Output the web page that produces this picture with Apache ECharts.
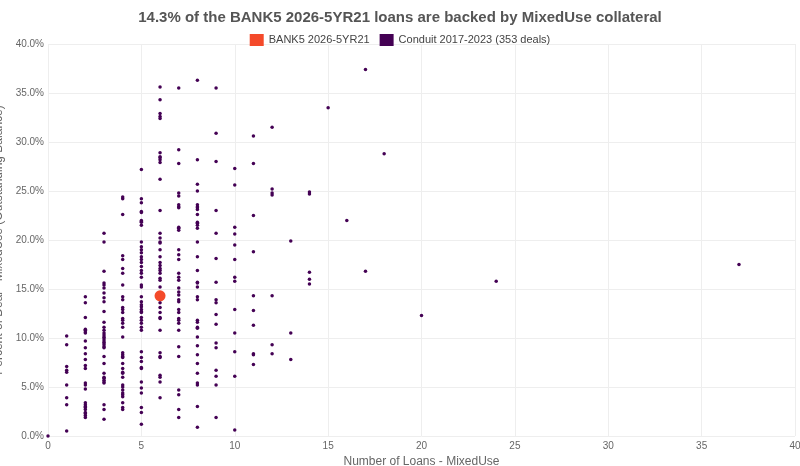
<!DOCTYPE html>
<html><head><meta charset="utf-8">
<script src="https://cdn.jsdelivr.net/npm/echarts@6/dist/echarts.min.js"></script>
<style>html,body{margin:0;padding:0;background:#fff}#c{width:800px;height:466px}</style>
</head><body><div id="c"></div>
<script>
const bankX = 6, bankY = 14.3;
const conduitCols = {
0:[0],
1:[10.2,9.3,7.1,6.7,6.5,5.2,3.9,3.2,0.5],
2:[14.2,13.6,12.1,10.9,10.8,10.6,10.5,9.7,9.0,8.4,7.8,7.2,6.9,5.4,5.2,4.8,3.4,3.2,3.0,2.9,2.7,2.4,2.3,2.1,1.9],
3:[20.7,19.8,16.8,15.6,15.4,15.1,14.6,14.1,13.7,12.7,11.6,11.1,10.8,10.5,10.3,10.1,10.0,9.8,9.6,9.5,9.3,9.1,9.0,8.1,7.4,6.4,6.0,5.9,5.7,5.5,5.4,3.2,2.7,1.7],
4:[24.4,24.2,22.6,18.4,18.0,17.1,16.6,15.4,14.2,13.9,13.1,12.9,12.6,12.0,11.8,11.5,11.1,10.1,8.5,8.3,8.1,8.0,7.4,6.9,6.5,6.4,6.0,5.2,5.0,4.7,4.4,4.2,4.0,3.4,2.9,2.7],
5:[27.2,24.2,23.8,22.9,22.8,21.9,21.5,22.0,21.8,19.8,19.3,19.0,18.7,18.3,18.0,17.7,17.3,16.9,16.6,16.2,15.4,15.2,14.2,13.7,13.4,13.2,12.9,12.7,12.6,12.1,11.8,11.5,11.1,10.8,8.6,8.0,7.6,7.0,6.9,5.5,4.9,4.4,2.9,2.4,1.2],
6:[35.6,34.3,32.9,32.6,32.4,28.9,28.5,28.4,28.2,27.9,26.2,23.0,20.7,20.2,19.8,19.7,19.0,18.3,17.7,17.4,17.1,16.9,16.6,16.1,15.9,15.2,13.6,13.1,12.6,12.1,12.0,10.8,8.5,8.1,8.0,6.2,6.0,5.5,3.9],
7:[35.5,29.2,27.8,24.8,24.5,23.6,23.4,23.3,21.3,21.2,21.0,19.0,18.5,18.0,16.6,16.2,15.9,15.1,14.7,14.4,13.9,13.7,12.9,12.6,12.0,11.8,11.5,10.8,9.1,8.1,4.7,4.2,2.7,1.9],
8:[36.3,28.2,25.7,25.0,23.6,23.4,23.3,23.1,22.6,21.8,21.7,21.5,21.2,19.8,18.3,16.9,15.7,15.6,15.2,14.2,13.9,11.8,11.6,11.1,11.0,10.1,9.2,8.3,7.4,6.4,5.4,5.2,3.0,0.9],
9:[35.5,30.9,28.0,23.0,20.7,18.1,15.7,13.9,13.6,12.4,11.4,9.5,9.0,6.7,6.1,5.2,1.9],
10:[27.3,25.6,21.3,20.6,19.5,18.0,16.2,15.8,12.9,10.5,8.6,6.1,0.6],
11:[30.6,27.8,22.5,18.8,14.3,12.8,11.3,8.4,8.3,7.3],
12:[31.5,25.2,24.8,24.6,14.3,9.3,8.4],
13:[19.9,10.5,7.8],
14:[24.9,24.7,16.7,16.0,15.5],
15:[33.5],16:[22.0],17:[37.4,16.8],18:[28.8],20:[12.3],24:[15.8],37:[17.5]
};
const conduitData = [];
Object.keys(conduitCols).forEach(k => conduitCols[k].forEach(v => conduitData.push([+k, v])));
const chart = echarts.init(document.getElementById('c'));
chart.setOption({
  animation:false,
  title:{text:'14.3% of the BANK5 2026-5YR21 loans are backed by MixedUse collateral',left:'center',top:5,
    textStyle:{fontSize:15,fontWeight:'bold',color:'#555',fontFamily:'Liberation Sans'}},
  legend:{top:29,itemWidth:14,itemHeight:12,icon:'rect',itemGap:10,
    textStyle:{fontSize:11,color:'#444',fontFamily:'Liberation Sans'},
    data:['BANK5 2026-5YR21','Conduit 2017-2023 (353 deals)']},
  grid:{left:48,right:5,top:44,bottom:30,containLabel:false,outerBoundsMode:'none'},
  xAxis:{type:'value',min:0,max:40,interval:5,name:'Number of Loans - MixedUse',nameLocation:'middle',nameGap:18,
    nameTextStyle:{fontSize:12,color:'#666',fontFamily:'Liberation Sans'},
    axisLine:{show:false},axisTick:{show:false},
    axisLabel:{fontSize:10,color:'#666',margin:5,fontFamily:'Liberation Sans'},
    splitLine:{lineStyle:{color:'#eee'}}},
  yAxis:{type:'value',min:0,max:40,interval:5,name:'Percent of Deal - MixedUse (Outstanding Balance)',nameLocation:'middle',nameGap:36,
    nameTextStyle:{fontSize:12,color:'#666',fontFamily:'Liberation Sans'},
    axisLine:{show:false},axisTick:{show:false},
    axisLabel:{fontSize:10,color:'#666',margin:4,formatter:v=>v.toFixed(1)+'%',fontFamily:'Liberation Sans'},
    splitLine:{lineStyle:{color:'#eee'}}},
  series:[
    {name:'Conduit 2017-2023 (353 deals)',type:'scatter',data:conduitData,symbolSize:3.5,itemStyle:{color:'#440154',opacity:1},z:2},
    {name:'BANK5 2026-5YR21',type:'scatter',data:[[bankX,bankY]],symbolSize:11,itemStyle:{color:'#f44a2a',opacity:1},z:3}
  ]
});
</script></body></html>
